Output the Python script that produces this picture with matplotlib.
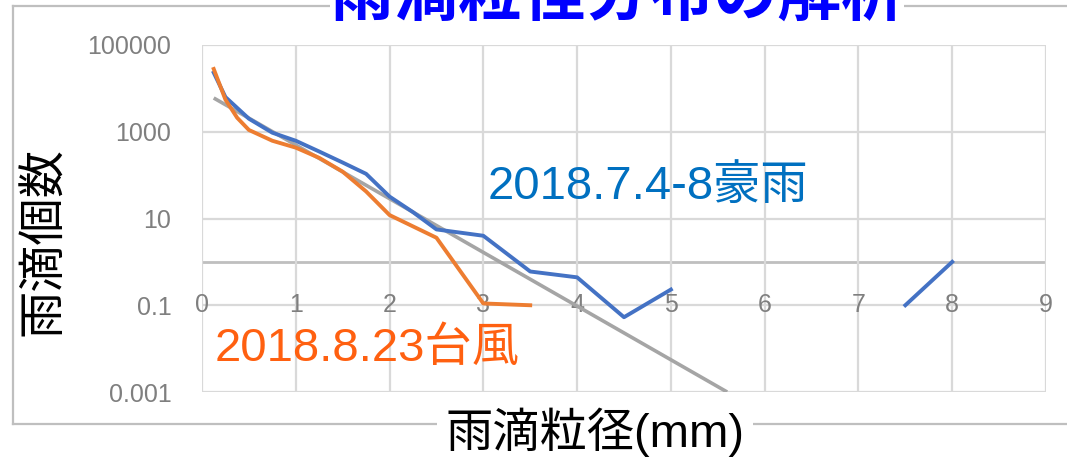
import numpy as np
import matplotlib
matplotlib.use('Agg')
from matplotlib import pyplot as plt
from matplotlib.lines import Line2D

plt.rcParams['font.family'] = ['Liberation Sans', 'Noto Sans CJK JP']

# 2018.7.4-8 heavy rain (blue)
heavy_x = [0.125, 0.25, 0.5, 0.75, 1.0, 1.25, 1.5, 1.75, 2.0, 2.25, 2.5, 3.0, 3.5, 4.0, 4.5, 5.0,
           5.5, 6.0, 6.5, 7.0, 7.5, 8.0]
heavy_y = [23000, 6300, 2000, 950, 620, 350, 195, 107, 32, 14, 5.6, 4.0, 0.6, 0.44, 0.053, 0.23,
           np.nan, np.nan, np.nan, np.nan, 0.1, 1.0]

# 2018.8.23 typhoon (orange)
typhoon_x = [0.125, 0.25, 0.375, 0.5, 0.75, 1.0, 1.25, 1.5, 1.75, 2.0, 2.5, 3.0, 3.5]
typhoon_y = [28000, 5500, 2100, 1100, 620, 430, 250, 120, 42, 12, 3.6, 0.11, 0.1]

# trend line end points (gray)
trend_x = [0.125, 5.6]
trend_y = [6000, 0.001]

x_ticks = list(range(10))
y_ticks = [0.001, 0.1, 10, 1000, 100000]
y_labels = ['0.001', '0.1', '10', '1000', '100000']

W, H = 1067, 472
fig = plt.figure(figsize=(W / 100, H / 100), dpi=100)
ax = fig.add_axes([202 / W, 1 - 392 / H, 844 / W, 347 / H])

ax.set_yscale('log')
ax.set_xlim(0, 9)
ax.set_ylim(0.001, 100000)
ax.set_xticks(x_ticks)
ax.set_yticks(y_ticks)
ax.set_yticklabels(y_labels)
ax.minorticks_off()
ax.tick_params(axis='x', length=0, labelbottom=False)
ax.tick_params(axis='y', length=0, pad=22, labelsize=18, labelcolor='#7f7f7f')
ax.grid(True, color='#d9d9d9', lw=1.6)
for s in ax.spines.values():
    s.set_visible(False)
ax.axhline(1, color='#bfbfbf', lw=2, zorder=1)

for x in x_ticks:
    ax.text(x, 0.1, str(x), ha='center', va='center', fontsize=18, color='#7f7f7f')

ax.plot(trend_x, trend_y, color='#a5a5a5', lw=2.6, solid_capstyle='butt', zorder=3)
ax.plot(heavy_x, heavy_y, color='#4472c4', lw=2.8, zorder=4)
ax.plot(typhoon_x, typhoon_y, color='#ed7d31', lw=2.8, zorder=4)

ax.text((488 - 202) / 844 * 9, 10 ** (5 - (187 - 45) / 43.5), '2018.7.4-8豪雨',
        color='#0070c0', fontsize=34, ha='left', va='center')
ax.text((215 - 202) / 844 * 9, 10 ** (5 - (350 - 45) / 43.5), '2018.8.23台風',
        color='#ff6010', fontsize=34, ha='left', va='center', clip_on=False)

# outer frame
fc = '#bfbfbf'
fig.add_artist(Line2D([13 / W, 1], [1 - 6 / H, 1 - 6 / H], color=fc, lw=1.6))
fig.add_artist(Line2D([13 / W, 13 / W], [1 - 6 / H, 1 - 424 / H], color=fc, lw=1.6))
fig.add_artist(Line2D([13 / W, 1], [1 - 424 / H, 1 - 424 / H], color=fc, lw=1.6))

fig.text(617 / W, 1 + 3 / H, '雨滴粒径分布の解析', color='#0000ff', fontsize=46,
         fontweight='bold', ha='center', va='center',
         bbox=dict(facecolor='white', edgecolor='none', pad=0))
fig.text(595 / W, 1 - 432 / H, '雨滴粒径(mm)', color='black', fontsize=34,
         ha='center', va='center',
         bbox=dict(facecolor='white', edgecolor='none', pad=6))
fig.text(45 / W, 1 - 241 / H, '雨滴個数', color='black', fontsize=34,
         ha='center', va='center', rotation=90)

plt.savefig('out.png', dpi=100)
